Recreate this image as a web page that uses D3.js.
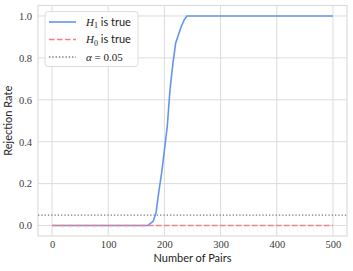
<!DOCTYPE html>
<html>
<head>
<meta charset="utf-8">
<script src="https://cdn.jsdelivr.net/npm/d3@7"></script>
<style>
  body { margin: 0; background: #fff; }
  .tick text { font-family: "Liberation Serif", serif; font-size: 10.5px; fill: #3a3a3a; }
</style>
</head>
<body>
<script>
// chart data
var pairs = [0, 170, 175, 180, 185, 190, 195, 200, 205, 210, 215, 220, 225, 230, 235, 240, 500];
var h1Rate = [0, 0, 0.01, 0.02, 0.06, 0.16, 0.25, 0.36, 0.47, 0.65, 0.77, 0.87, 0.91, 0.95, 0.98, 1.0, 1.0];
var h0Pairs = [0, 500];
var h0Rate = [0, 0];
var alphaLevel = 0.05;
var xTicks = [0, 100, 200, 300, 400, 500];
var yTicks = [0, 0.2, 0.4, 0.6, 0.8, 1.0];

var svgWidth = 353;
var svgHeight = 271;
var margin = { top: 5.5, right: 6, bottom: 35, left: 38 };
var chartWidth = svgWidth - margin.left - margin.right;
var chartHeight = svgHeight - margin.top - margin.bottom;

var svg = d3.select("body").append("svg")
  .attr("width", svgWidth)
  .attr("height", svgHeight);

var chartGroup = svg.append("g")
  .attr("transform", `translate(${margin.left}, ${margin.top})`);

var xScale = d3.scaleLinear().domain([-25, 525]).range([0, chartWidth]);
var yScale = d3.scaleLinear().domain([-0.05, 1.05]).range([chartHeight, 0]);

// grid
chartGroup.append("g").selectAll("line").data(xTicks).enter().append("line")
  .attr("x1", d => xScale(d)).attr("x2", d => xScale(d))
  .attr("y1", 0).attr("y2", chartHeight)
  .attr("stroke", "#dcdcdc").attr("stroke-width", 1);
chartGroup.append("g").selectAll("line").data(yTicks).enter().append("line")
  .attr("y1", d => yScale(d)).attr("y2", d => yScale(d))
  .attr("x1", 0).attr("x2", chartWidth)
  .attr("stroke", "#dcdcdc").attr("stroke-width", 1);

// axes
var bottomAxis = d3.axisBottom(xScale).tickValues(xTicks).tickSize(0).tickPadding(5);
var leftAxis = d3.axisLeft(yScale).tickValues(yTicks).tickSize(0).tickPadding(6)
  .tickFormat(d3.format(".1f"));

chartGroup.append("g")
  .attr("transform", `translate(0, ${chartHeight})`)
  .call(bottomAxis)
  .call(g => g.select(".domain").remove());
chartGroup.append("g")
  .call(leftAxis)
  .call(g => g.select(".domain").remove());

// frame
chartGroup.append("rect")
  .attr("width", chartWidth).attr("height", chartHeight)
  .attr("fill", "none").attr("stroke", "#dcdcdc").attr("stroke-width", 1.2);

// lines
var line = d3.line().x(d => xScale(d[0])).y(d => yScale(d[1]));

chartGroup.append("line")
  .attr("x1", 0).attr("x2", chartWidth)
  .attr("y1", yScale(alphaLevel)).attr("y2", yScale(alphaLevel))
  .attr("stroke", "#777").attr("stroke-width", 1.3)
  .attr("stroke-dasharray", "1.3,2");

chartGroup.append("path")
  .datum(d3.zip(pairs, h1Rate))
  .attr("d", line)
  .attr("fill", "none").attr("stroke", "#6495ed").attr("stroke-width", 1.6);

chartGroup.append("path")
  .datum(d3.zip(h0Pairs, h0Rate))
  .attr("d", line)
  .attr("fill", "none").attr("stroke", "#f47f80").attr("stroke-width", 1.6)
  .attr("stroke-dasharray", "5.5,2.5");

// axis labels
svg.append("text")
  .attr("x", margin.left + chartWidth / 2).attr("y", 262)
  .attr("text-anchor", "middle")
  .style("font-family", "Lato, sans-serif").style("font-size", "11px").attr("fill", "#222")
  .text("Number of Pairs");

svg.append("text")
  .attr("transform", `translate(12, ${margin.top + chartHeight / 2}) rotate(-90)`)
  .attr("text-anchor", "middle")
  .style("font-family", "Lato, sans-serif").style("font-size", "11px").attr("fill", "#222")
  .text("Rejection Rate");

// legend
var legend = chartGroup.append("g").attr("transform", "translate(7, 6)");
legend.append("rect")
  .attr("width", 93).attr("height", 55).attr("rx", 3)
  .attr("fill", "#fff").attr("fill-opacity", 0.85)
  .attr("stroke", "#dcdcdc").attr("stroke-width", 1);

var legendItems = [
  { color: "#6495ed", dash: null, sym: "H", sub: "1", rest: " is true" },
  { color: "#f47f80", dash: "5.5,2.5", sym: "H", sub: "0", rest: " is true" },
  { color: "#777", dash: "1.3,2", sym: "α", sub: null, rest: " = 0.05" }
];

legendItems.forEach(function(item, i) {
  var y = 10.5 + i * 17.5;
  legend.append("line")
    .attr("x1", 4).attr("x2", 31).attr("y1", y).attr("y2", y)
    .attr("stroke", item.color).attr("stroke-width", item.sub === null ? 1.3 : 1.6)
    .attr("stroke-dasharray", item.dash);
  var t = legend.append("text").attr("x", 41).attr("y", y + 3.8)
    .style("font-size", "11px").attr("fill", "#222");
  t.append("tspan").style("font-family", "Liberation Serif, serif").style("font-style", "italic")
    .text(item.sym);
  if (item.sub) {
    t.append("tspan").style("font-family", "Liberation Serif, serif").style("font-size", "8px")
      .attr("dy", 2.5).text(item.sub);
    t.append("tspan").attr("dy", -2.5).style("font-family", "Lato, sans-serif").text(item.rest);
  } else {
    t.append("tspan").style("font-family", "Liberation Serif, serif").text(item.rest);
  }
});
</script>
</body>
</html>
